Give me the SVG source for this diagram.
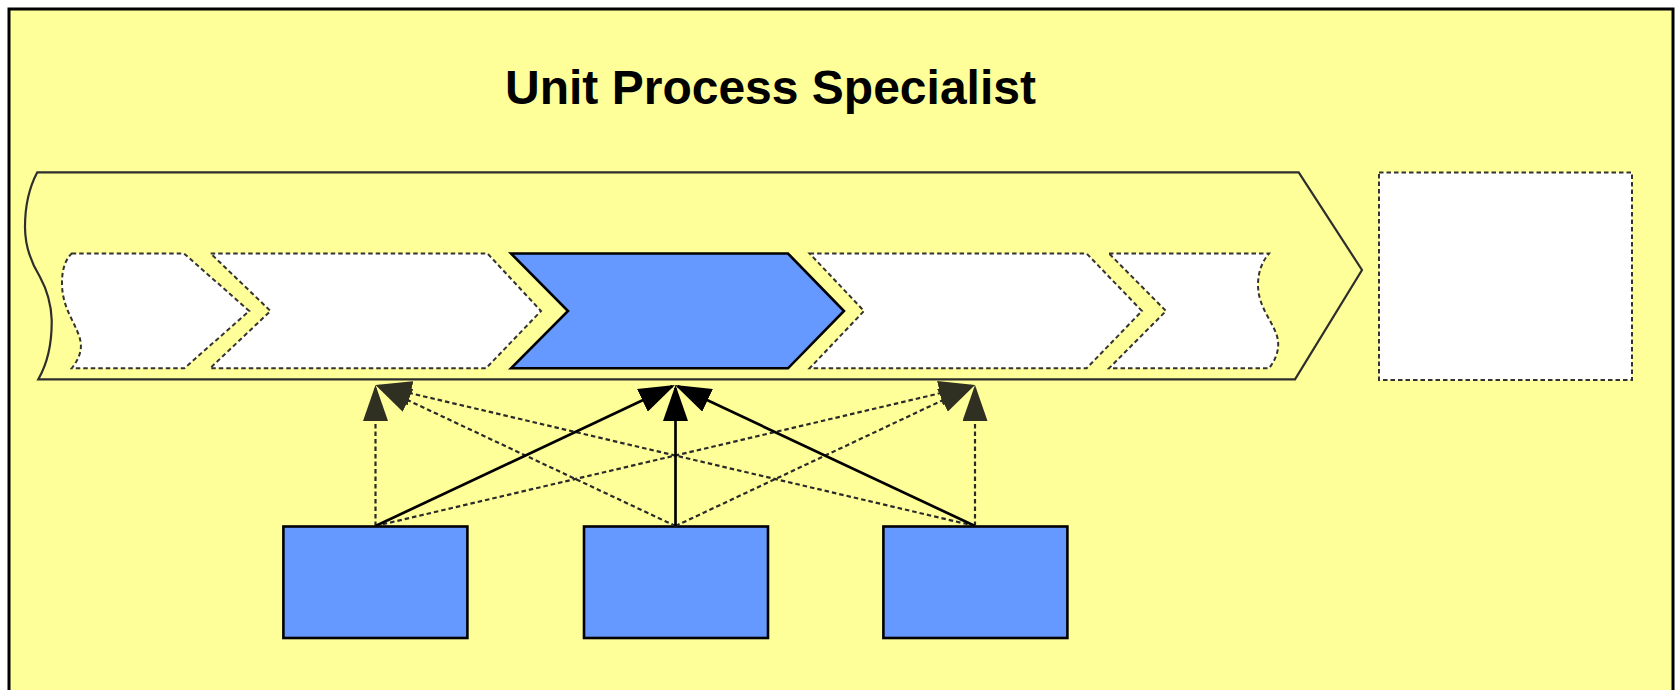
<svg xmlns="http://www.w3.org/2000/svg" width="1677" height="690" viewBox="0 0 1677 690">
<style>
.bg{fill:#FFFF99;stroke:#000;stroke-width:3}
.band{fill:none;stroke:#2e2e2e;stroke-width:2.2}
.dchev{fill:#fff;stroke:#333;stroke-width:2;stroke-dasharray:4.5 3}
.blue{fill:#6699FF;stroke:#000;stroke-width:2.6;stroke-linejoin:miter}
.solid{fill:none;stroke:#000;stroke-width:2.7}
.dash{fill:none;stroke:#2a2a2a;stroke-width:2.2;stroke-dasharray:4.5 3}
.title{font-family:"Liberation Sans",Arial,sans-serif;font-weight:bold;font-size:48px;fill:#000}
</style>
<defs>
<marker id="ahSolid" markerUnits="userSpaceOnUse" markerWidth="36" markerHeight="25" refX="33" refY="12.5" orient="auto" viewBox="0 0 36 25">
<path d="M0,0 L36,12.5 L0,25 Z" fill="#000"/>
</marker>
<marker id="ahDash" markerUnits="userSpaceOnUse" markerWidth="36" markerHeight="25" refX="33" refY="12.5" orient="auto" viewBox="0 0 36 25">
<path d="M0,0 L36,12.5 L0,25 Z" fill="#2f2f22"/>
</marker>
</defs>
<rect id="frame" class="bg" x="9" y="9" width="1664" height="700"/>
<text id="title" class="title" x="770.5" y="104" text-anchor="middle">Unit Process Specialist</text>
<g id="band">
<path class="band" d="M37.3,172.3 L1298.7,172.3 L1362,270 L1295,379.3 L38.3,379.3 C46,366 52,345 51.7,320 C51,300 46,288 40,277 C32,264 25,248 25,227 C25,205 30,186 37.3,172.3 Z"/>
</g>
<g id="chevron1">
<path class="dchev" d="M71.7,253.5 L184,253.5 L249.3,311 L184.3,368.3 L71.7,368.3 C82,355 83,345 78,333 C72,318 62,305 62,283 C62,270 65,260 71.7,253.5 Z"/>
</g>
<g id="chevron2">
<path class="dchev" d="M210.7,253.5 L487.5,253.5 L541,311 L486,368.3 L210,368.3 L270.5,311 Z"/>
</g>
<g id="chevron3">
<path class="blue" d="M511,253.5 L788,253.5 L844,311 L788,368.3 L511,368.3 L568,311 Z"/>
</g>
<g id="chevron4">
<path class="dchev" d="M809.6,253.5 L1086.6,253.5 L1142,311 L1086.6,368.3 L809.6,368.3 L864,311 Z"/>
</g>
<g id="chevron5">
<path class="dchev" d="M1109,253.5 L1269,253.5 C1262,262 1258,272 1258,285 C1258,305 1270,318 1276,333 C1281,346 1277,358 1269,368.3 L1109,368.3 L1166,311 Z"/>
</g>
<g id="outputBox">
<rect class="dchev" x="1379" y="172.5" width="253" height="207.5"/>
</g>
<g id="box1"><rect class="blue" x="283.4" y="526.5" width="184" height="111.5"/></g>
<g id="box2"><rect class="blue" x="584" y="526.5" width="184" height="111.5"/></g>
<g id="box3"><rect class="blue" x="883.4" y="526.5" width="184" height="111.5"/></g>
<g id="connectors">
<path class="dash" d="M375.5,526 L375.5,388" marker-end="url(#ahDash)"/>
<path class="dash" d="M675.5,526 L378.2,386.3" marker-end="url(#ahDash)"/>
<path class="dash" d="M975,526 L378.4,385.7" marker-end="url(#ahDash)"/>
<path class="dash" d="M975,526 L975,388" marker-end="url(#ahDash)"/>
<path class="dash" d="M675.5,526 L972.3,386.3" marker-end="url(#ahDash)"/>
<path class="dash" d="M375.5,526 L972.1,385.7" marker-end="url(#ahDash)"/>
<path class="solid" d="M375.5,526 L672.3,386.3" marker-end="url(#ahSolid)"/>
<path class="solid" d="M675.5,526 L675.5,388" marker-end="url(#ahSolid)"/>
<path class="solid" d="M975,526 L677.7,386.3" marker-end="url(#ahSolid)"/>
</g>
</svg>
